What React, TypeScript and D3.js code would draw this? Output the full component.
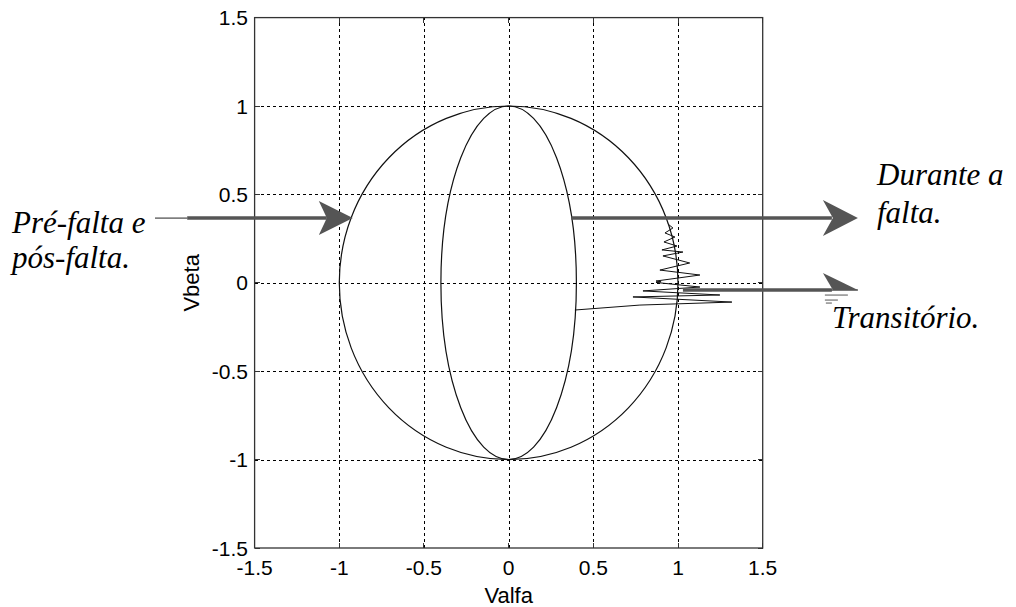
import React from "react";
import * as d3 from "d3";

// Axis ticks
const xTicks = [-1.5, -1, -0.5, 0, 0.5, 1, 1.5];
const yTicks = [-1.5, -1, -0.5, 0, 0.5, 1, 1.5];

// Phasor trajectories: pre/post-fault circle and fault ellipse (semi-axes in pu)
const preFaultRx = 1.0;
const preFaultRy = 1.0;
const faultRx = 0.4;
const faultRy = 1.0;

// Transient path from the circle down to the fault ellipse
const transX = [0.94, 0.97, 0.923, 0.982, 0.917, 0.994, 0.905, 1.029, 0.911, 1.069, 0.893, 1.129, 0.87, 0.9, 0.87, 1.129, 0.793, 1.247, 0.734, 1.318, 0.775, 0.391];
const transY = [0.333, 0.31, 0.282, 0.259, 0.231, 0.208, 0.186, 0.174, 0.152, 0.112, 0.072, 0.044, 0.01, 0.006, 0.002, -0.024, -0.046, -0.069, -0.08, -0.109, -0.126, -0.154];

const W = 1016;
const H = 607;

const SANS = "Liberation Sans";
const SERIF = "Liberation Serif";

export default function App() {
  const x = d3.scaleLinear().domain([-1.5, 1.5]).range([254.6, 762.7]);
  const y = d3.scaleLinear().domain([-1.5, 1.5]).range([548, 17.6]);

  const pts: [number, number][] = transX.map((v, i) => [v, transY[i]]);
  const line = d3.line<[number, number]>().x((d) => x(d[0])).y((d) => y(d[1]));

  const fmt = (v: number) => String(v);
  const gray = "#555";

  // Arrow with a notched (stealth) head
  const head = (tx: number, ty: number, len: number, hw: number, notch: number, half = false) => {
    const p = d3.path();
    p.moveTo(tx, ty);
    p.lineTo(tx - len, ty - hw);
    p.lineTo(tx - len + notch, ty);
    if (!half) p.lineTo(tx - len, ty + hw);
    p.closePath();
    return p.toString();
  };

  const arrowY1 = y(0.366);
  const arrowY2 = y(-0.041);

  return (
    <svg width={W} height={H} style={{ position: "absolute", left: 0, top: 0, background: "#fff" }}>
      <rect width={W} height={H} fill="#fff" />
      {/* grid */}
      <g stroke="#000" strokeWidth={1} strokeDasharray="3,3" shapeRendering="crispEdges">
        {xTicks.slice(1, -1).map((t) => (
          <line key={"gx" + t} x1={Math.round(x(t)) + 0.5} x2={Math.round(x(t)) + 0.5} y1={y(-1.5)} y2={y(1.5)} />
        ))}
        {yTicks.slice(1, -1).map((t) => (
          <line key={"gy" + t} y1={Math.round(y(t)) + 0.5} y2={Math.round(y(t)) + 0.5} x1={x(-1.5)} x2={x(1.5)} />
        ))}
      </g>
      {/* ticks */}
      <g stroke="#333" strokeWidth={1} shapeRendering="crispEdges">
        {xTicks.map((t) => (
          <g key={"tx" + t}>
            <line x1={x(t)} x2={x(t)} y1={y(-1.5)} y2={y(-1.5) - 5} />
            <line x1={x(t)} x2={x(t)} y1={y(1.5)} y2={y(1.5) + 5} />
          </g>
        ))}
        {yTicks.map((t) => (
          <g key={"ty" + t}>
            <line y1={y(t)} y2={y(t)} x1={x(-1.5)} x2={x(-1.5) + 5} />
            <line y1={y(t)} y2={y(t)} x1={x(1.5)} x2={x(1.5) - 5} />
          </g>
        ))}
      </g>
      {/* axes box */}
      <rect
        x={x(-1.5)}
        y={y(1.5)}
        width={x(1.5) - x(-1.5)}
        height={y(-1.5) - y(1.5)}
        fill="none"
        stroke="#333"
        strokeWidth={1.3}
      />
      {/* trajectories */}
      <g fill="none" stroke="#111" strokeWidth={1.2}>
        <ellipse cx={x(0)} cy={y(0)} rx={x(preFaultRx) - x(0)} ry={y(0) - y(preFaultRy)} />
        <ellipse cx={x(0)} cy={y(0)} rx={x(faultRx) - x(0)} ry={y(0) - y(faultRy)} />
        <path d={line(pts) || ""} strokeWidth={1} />
      </g>
      {/* tick labels */}
      <g fontFamily={SANS} fontSize={21} fill="#000">
        {xTicks.map((t) => (
          <text key={"lx" + t} x={x(t)} y={575} textAnchor="middle">
            {fmt(t)}
          </text>
        ))}
        {yTicks.map((t) => (
          <text key={"ly" + t} x={248} y={y(t) + 7.5} textAnchor="end">
            {fmt(t)}
          </text>
        ))}
        <text x={x(0)} y={603} textAnchor="middle" fontSize={22}>
          Valfa
        </text>
        <text transform={`translate(199,${y(0)}) rotate(-90)`} textAnchor="middle" fontSize={22}>
          Vbeta
        </text>
      </g>
      {/* annotation arrows */}
      <g>
        <line x1={x(-2.088)} x2={x(-1.898)} y1={arrowY1} y2={arrowY1} stroke="#222" strokeWidth={1} />
        <line x1={x(-1.898)} x2={x(-0.92) - 26} y1={arrowY1} y2={arrowY1} stroke={gray} strokeWidth={3.5} />
        <path d={head(x(-0.92), arrowY1, 34, 17, 8)} fill={gray} />

        <line x1={x(0.37)} x2={x(2.062) - 26} y1={arrowY1} y2={arrowY1} stroke={gray} strokeWidth={3.5} />
        <path d={head(x(2.062), arrowY1, 35, 18, 10)} fill={gray} />

        <line x1={x(1.029)} x2={x(2.062) - 26} y1={arrowY2} y2={arrowY2} stroke={gray} strokeWidth={3.5} />
        <line x1={x(2.062) - 28} x2={x(2.062)} y1={arrowY2} y2={arrowY2} stroke={gray} strokeWidth={1.5} />
        <path d={head(x(2.062), arrowY2, 35, 17, 10, true)} fill={gray} />
        <g stroke={gray} strokeWidth={1}>
          <line x1={x(2.062) - 33} x2={x(2.062) - 10} y1={arrowY2 + 5} y2={arrowY2 + 5} />
          <line x1={x(2.062) - 33} x2={x(2.062) - 20} y1={arrowY2 + 10} y2={arrowY2 + 10} />
          <line x1={x(2.062) - 32} x2={x(2.062) - 26} y1={arrowY2 + 13} y2={arrowY2 + 13} />
        </g>
      </g>
      {/* annotation labels */}
      <g fontFamily={SERIF} fontStyle="italic" fontSize={31} fill="#000">
        <text x={12} y={233}>Pré-falta e</text>
        <text x={12} y={268}>pós-falta.</text>
        <text x={877} y={185}>Durante a</text>
        <text x={877} y={223}>falta.</text>
        <text x={832} y={328}>Transitório.</text>
      </g>
    </svg>
  );
}
